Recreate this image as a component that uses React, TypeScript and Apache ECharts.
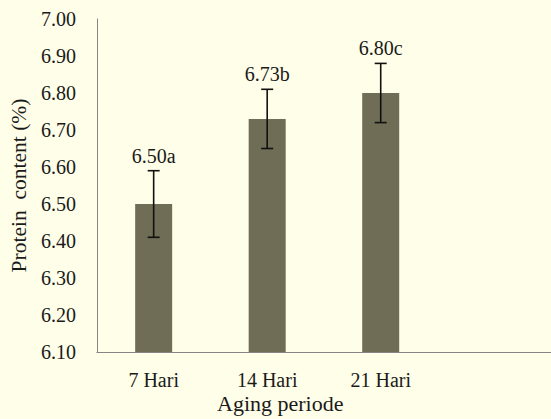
import React, { useEffect, useRef } from "react";
import * as echarts from "echarts";

const categories = ["7 Hari", "14 Hari", "21 Hari", ""];
const proteinValues = [6.5, 6.73, 6.8, null];
const errorValues = [0.09, 0.08, 0.08];
const valueLabels = ["6.50a", "6.73b", "6.80c"];
const yTicks = { min: 6.1, max: 7.0, interval: 0.1 };
const yAxisTitle = "Protein  content (%)";
const xAxisTitle = "Aging periode";

const FONT = "Liberation Serif";

export default function App() {
  const ref = useRef<HTMLDivElement>(null);
  useEffect(() => {
    if (!ref.current) return;
    const chart = echarts.init(ref.current, null, { renderer: "svg" });
    const errData = errorValues.map((e, i) => [
      i,
      (proteinValues[i] as number) - e,
      (proteinValues[i] as number) + e,
    ]);
    chart.setOption({
      animation: false,
      backgroundColor: "#fffee8",
      textStyle: { fontFamily: FONT },
      grid: { left: 95, top: 19, width: 460, bottom: 67 },
      xAxis: {
        type: "category",
        data: categories,
        axisLine: { lineStyle: { color: "#858585", width: 1 } },
        axisTick: { show: false },
        axisLabel: { color: "#1a1a1a", fontSize: 20, fontFamily: FONT, margin: 18 },
      },
      yAxis: {
        type: "value",
        min: yTicks.min,
        max: yTicks.max,
        interval: yTicks.interval,
        name: yAxisTitle,
        nameLocation: "middle",
        nameGap: 59,
        nameTextStyle: { color: "#1a1a1a", fontSize: 21.5, fontFamily: FONT },
        axisLine: { show: true, lineStyle: { color: "#858585", width: 1 } },
        axisTick: { show: false },
        splitLine: { show: false },
        axisLabel: {
          color: "#1a1a1a",
          fontSize: 20,
          fontFamily: FONT,
          margin: 21,
          formatter: (v: number) => v.toFixed(2),
        },
      },
      graphic: [
        {
          type: "text",
          left: 217,
          top: 392,
          style: { text: xAxisTitle, fontSize: 22, fontFamily: FONT, fill: "#1a1a1a" },
        },
      ],
      series: [
        {
          type: "bar",
          data: proteinValues,
          barWidth: 37,
          itemStyle: { color: "#6f6d55" },
        },
        {
          type: "custom",
          data: errData,
          z: 10,
          renderItem: (params: any, api: any) => {
            const x = api.value(0);
            const lo = api.coord([x, api.value(1)]);
            const hi = api.coord([x, api.value(2)]);
            const cx = lo[0];
            const half = 6;
            const style = { stroke: "#111", lineWidth: 1.6 };
            return {
              type: "group",
              children: [
                { type: "line", shape: { x1: cx, y1: lo[1], x2: cx, y2: hi[1] }, style },
                { type: "line", shape: { x1: cx - half, y1: lo[1], x2: cx + half, y2: lo[1] }, style },
                { type: "line", shape: { x1: cx - half, y1: hi[1], x2: cx + half, y2: hi[1] }, style },
                {
                  type: "text",
                  x: cx,
                  y: hi[1] - 15,
                  style: {
                    text: valueLabels[params.dataIndex],
                    align: "center",
                    verticalAlign: "middle",
                    fontSize: 20,
                    fontFamily: FONT,
                    fill: "#1a1a1a",
                  },
                },
              ],
            };
          },
        },
      ],
    });
    return () => chart.dispose();
  }, []);
  return (
    <div
      ref={ref}
      style={{ position: "fixed", left: 0, top: 0, width: 551, height: 419 }}
    />
  );
}
